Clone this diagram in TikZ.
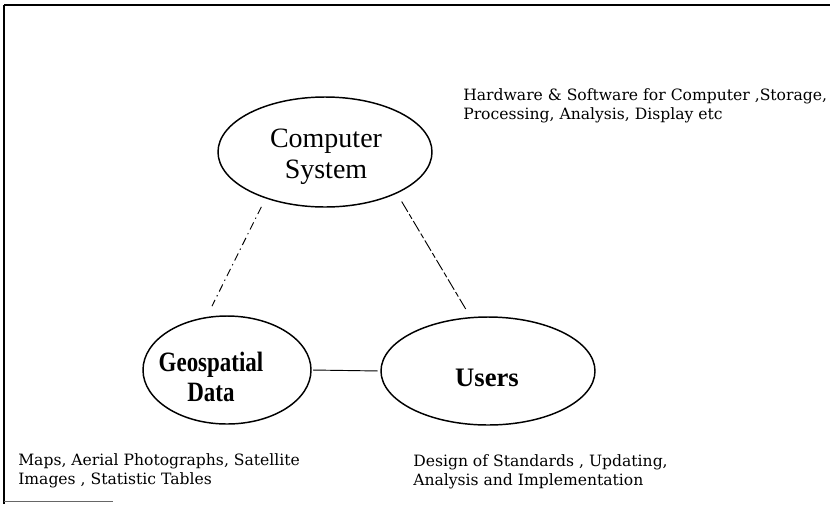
\documentclass[tikz,border=0pt]{standalone}
\usepackage{fontspec}
\setmainfont{Liberation Serif}
\newfontfamily\notefont{DejaVu Serif}
\newfontfamily\narrowserif[FakeStretch=0.82]{Liberation Serif}
\usetikzlibrary{shapes.geometric}
\begin{document}
\begin{tikzpicture}[x=0.75pt,y=-0.75pt,
  oval/.style={ellipse,draw,line width=1.1pt,inner sep=0pt},
  lbl/.style={align=center,inner sep=0pt,font=\fontsize{21}{23.5}\selectfont},
  note/.style={anchor=west,align=left,inner sep=0pt,font=\notefont\fontsize{11.7}{14.5}\selectfont},
  link/.style={line width=0.7pt}]
\useasboundingbox (0,0) rectangle (830,504);
% frame
\coordinate (tl) at (4,5);
\coordinate (tr) at (830,5);
\coordinate (bl) at (4,504);
\coordinate (bb) at (4,501);
\coordinate (be) at (113,501);
\draw[line width=1.5pt] (tr) -- (tl);
\draw[line width=1pt] (tl) -- (bl);
\draw[line width=0.6pt,black!60] (bb) -- (be);
% ellipses
\node[oval,minimum width=160.5pt,minimum height=82.5pt] (cs) at (325,152) {};
\node[oval,minimum width=126pt,minimum height=81pt] (geo) at (227,370) {};
\node[oval,minimum width=160.5pt,minimum height=81pt] (usr) at (488,371) {};
\node[lbl] (cstext) at (326,157) {Computer\\System};
\node[lbl,font=\narrowserif\fontsize{21}{23}\selectfont\bfseries] (geotext) at (211,377) {Geospatial\\Data};
\node[lbl,font=\fontsize{20}{23}\selectfont\bfseries] (usrtext) at (487,378) {Users};
% connectors
\draw[link,dash pattern=on 6pt off 3pt on 1pt off 3pt,shorten <=7pt,shorten >=9pt] (cs.218) -- (geo.111);
\draw[link,dash pattern=on 9pt off 2pt on 4pt off 2pt,shorten <=7pt,shorten >=7pt] (cs.-30) -- (usr.108);
\draw[link,shorten <=1pt,shorten >=2pt] (geo.east) -- (usr.west);
% notes
\node[note] (hw) at (463,106) {Hardware \& Software for Computer ,Storage,\\Processing, Analysis, Display etc};
\node[note] (maps) at (18,471) {Maps, Aerial Photographs, Satellite\\Images , Statistic Tables};
\node[note] (des) at (413,472) {Design of Standards , Updating,\\Analysis and Implementation};
\end{tikzpicture}
\end{document}
